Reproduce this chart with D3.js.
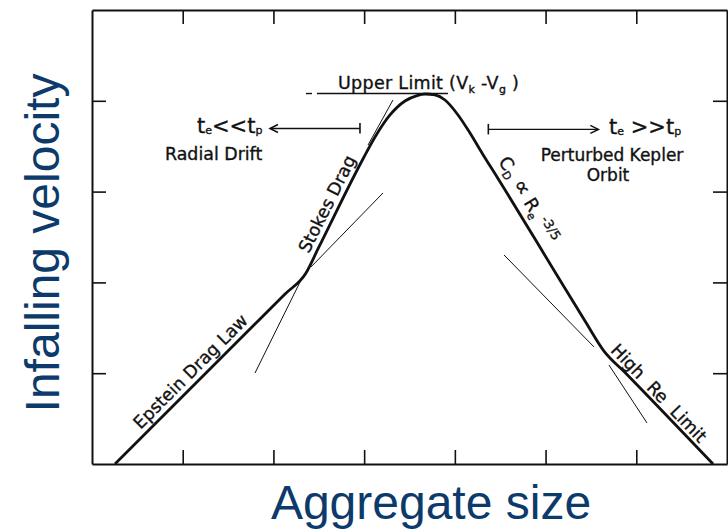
<!DOCTYPE html>
<html>
<head>
<meta charset="utf-8">
<script src="https://cdn.jsdelivr.net/npm/d3@7"></script>
<style>
  html, body { margin: 0; padding: 0; background: #fff; }
  svg { display: block; }
</style>
</head>
<body>
<svg id="chart" width="728" height="531"></svg>
<script>
// Axes: aggregate size and infall velocity, both in decades (log units)
const sizeDomain = [0, 7];
const velocityDomain = [0, 5];
const sizeTicks = [1, 2, 3, 4, 5, 6];
const velocityTicks = [1, 2, 3, 4];

// Infall velocity curve: Epstein -> Stokes -> upper limit -> C_D ~ Re^-3/5 -> high Re
const curveSize = [0.254, 2.128, 2.359, 2.491, 2.987, 3.120, 3.285, 3.450, 3.583, 3.671,
                   3.781, 3.891, 4.035, 4.167, 4.299, 4.465, 5.104, 5.435, 5.644, 5.876, 6.846];
const curveVelocity = [0.000, 1.872, 2.104, 2.368, 3.359, 3.601, 3.844, 3.998, 4.058, 4.075,
                       4.064, 4.009, 3.844, 3.645, 3.425, 3.161, 2.115, 1.575, 1.244, 1.008, 0.000];

// Thin asymptote extensions of each drag regime
const guideSize0 = [1.797, 2.414, 3.043, 4.542, 5.699];
const guideVel0  = [1.002, 2.170, 3.513, 2.302, 1.090];
const guideSize1 = [2.304, 3.208, 3.318, 5.534, 6.118];
const guideVel1  = [2.026, 2.985, 4.009, 1.289, 0.452];

// Upper limit (V_k - V_g)
const upperLimitVelocity = 4.080;
const upperLimitDash = [2.359, 2.425];
const upperLimitSpan = [2.480, 3.924];

// Radial drift / perturbed Kepler orbit brackets
const driftBar = 2.954, driftTip = 1.962, driftVel = 3.695;
const keplerBar = 4.369, keplerTip = 5.582, keplerVel = 3.685;

const svg = d3.select("#chart");
const plotLeft = 92, plotRight = 727, plotTop = 10, plotBottom = 464;

const x = d3.scaleLinear().domain(sizeDomain).range([plotLeft, plotRight]);
const y = d3.scaleLinear().domain(velocityDomain).range([plotBottom, plotTop]);

const ink = "#111";
const navy = "#0b3a6b";
const letterFont = "'DejaVu Sans', 'Noto Sans', sans-serif";

// Frame with inward ticks on all four sides
function frameAxis(axis, tr) {
  const g = svg.append("g").attr("transform", tr).call(axis);
  g.select(".domain").attr("stroke", ink).attr("stroke-width", 2);
  g.selectAll(".tick line").attr("stroke", ink).attr("stroke-width", 1.6);
  g.selectAll(".tick text").remove();
  return g;
}
frameAxis(d3.axisBottom(x).tickValues(sizeTicks).tickSize(-14).tickSizeOuter(0), `translate(0,${plotBottom})`);
frameAxis(d3.axisTop(x).tickValues(sizeTicks).tickSize(-14).tickSizeOuter(0), `translate(0,${plotTop})`);
frameAxis(d3.axisLeft(y).tickValues(velocityTicks).tickSize(-14).tickSizeOuter(0), `translate(${plotLeft},0)`);
frameAxis(d3.axisRight(y).tickValues(velocityTicks).tickSize(-14).tickSizeOuter(0), `translate(${plotRight},0)`);

// Asymptote guide lines
svg.append("g").selectAll("line")
  .data(d3.range(guideSize0.length))
  .join("line")
  .attr("x1", i => x(guideSize0[i])).attr("y1", i => y(guideVel0[i]))
  .attr("x2", i => x(guideSize1[i])).attr("y2", i => y(guideVel1[i]))
  .attr("stroke", ink).attr("stroke-width", 1);

// Upper limit line
svg.append("line")
  .attr("x1", x(upperLimitDash[0])).attr("x2", x(upperLimitDash[1]))
  .attr("y1", y(upperLimitVelocity)).attr("y2", y(upperLimitVelocity))
  .attr("stroke", ink).attr("stroke-width", 1.4);
svg.append("line")
  .attr("x1", x(upperLimitSpan[0])).attr("x2", x(upperLimitSpan[1]))
  .attr("y1", y(upperLimitVelocity)).attr("y2", y(upperLimitVelocity))
  .attr("stroke", ink).attr("stroke-width", 1.4);

// Main velocity curve
const curvePts = curveSize.map((s, i) => [s, curveVelocity[i]]);
svg.append("path")
  .datum(curvePts)
  .attr("d", d3.line().x(d => x(d[0])).y(d => y(d[1])).curve(d3.curveMonotoneX))
  .attr("fill", "none").attr("stroke", ink).attr("stroke-width", 2.8)
  .attr("stroke-linejoin", "round");

// Bracket arrows
function bracket(bar, tip, vel) {
  const yb = y(vel), xb = x(bar), xt = x(tip);
  const dir = Math.sign(xt - xb);
  svg.append("line").attr("x1", xb).attr("x2", xt).attr("y1", yb).attr("y2", yb)
    .attr("stroke", ink).attr("stroke-width", 1.4);
  svg.append("line").attr("x1", xb).attr("x2", xb).attr("y1", yb - 5.5).attr("y2", yb + 5)
    .attr("stroke", ink).attr("stroke-width", 1.6);
  svg.append("path")
    .attr("d", `M${xt - dir * 8},${yb - 4}L${xt},${yb}L${xt - dir * 8},${yb + 4}`)
    .attr("fill", "none").attr("stroke", ink).attr("stroke-width", 1.5);
}
bracket(driftBar, driftTip, driftVel);
bracket(keplerBar, keplerTip, keplerVel);

// Text helpers (lettering drawn slightly heavy, like pen lettering)
function label(tx, ty, anchor, size) {
  return svg.append("text")
    .attr("x", tx).attr("y", ty)
    .attr("text-anchor", anchor)
    .attr("font-family", letterFont)
    .attr("font-size", size)
    .attr("fill", ink)
    .attr("stroke", ink).attr("stroke-width", 0.35);
}
function sub(t, s, size, dy) {
  t.append("tspan").attr("font-size", size).attr("dy", dy).text(s);
}

// Upper Limit (V_k - V_g)
{
  const t = label(338, 89, "start", 17.5).attr("letter-spacing", 0.3);
  t.append("tspan").text("Upper Limit (V");
  sub(t, "k", 11, 4);
  t.append("tspan").attr("dy", -4).text(" -V");
  sub(t, "g", 11, 4);
  t.append("tspan").attr("dy", -4).text(" )");
}

// t_e << t_p   Radial Drift
{
  const t = label(197, 133, "start", 21);
  t.append("tspan").text("t");
  sub(t, "e", 11, 1);
  t.append("tspan").attr("dy", -1).text("<<t");
  sub(t, "p", 11, 1);
  label(165, 160, "start", 17.4).text("Radial Drift");
}

// t_e >> t_p   Perturbed Kepler Orbit
{
  const t = label(609, 134, "start", 21);
  t.append("tspan").text("t");
  sub(t, "e", 11, 1);
  t.append("tspan").attr("dy", -1).text(" >>t");
  sub(t, "p", 11, 1);
  label(612, 161, "middle", 17).text("Perturbed Kepler");
  label(608, 181, "middle", 17).text("Orbit");
}

// Regime labels set along the curve
function alongLabel(i0, i1, cx, cy, lift, size) {
  const dx = x(curveSize[i1]) - x(curveSize[i0]);
  const dy = y(curveVelocity[i1]) - y(curveVelocity[i0]);
  const ang = Math.atan2(dy, dx) * 180 / Math.PI;
  return svg.append("text")
    .attr("transform", `translate(${x(cx)},${y(cy)}) rotate(${ang})`)
    .attr("y", -lift)
    .attr("text-anchor", "middle")
    .attr("font-family", letterFont)
    .attr("font-size", size)
    .attr("fill", ink)
    .attr("stroke", ink).attr("stroke-width", 0.35);
}
alongLabel(0, 2, 1.180, 0.925, 6, 17.5).text("Epstein Drag Law");
alongLabel(2, 4, 2.720, 2.800, 7, 17.5).text("Stokes Drag");
{
  const t = alongLabel(15, 16, 4.671, 2.825, 9, 18);
  t.append("tspan").text("C");
  sub(t, "D", 11, 4);
  t.append("tspan").attr("dy", -4).text(" ");
  t.append("tspan").attr("font-size", 22).text("\u221D");
  t.append("tspan").text(" R");
  sub(t, "e", 11, 4);
  t.append("tspan").attr("font-size", 13).attr("dy", -10).text(" -3/5");
}
alongLabel(18, 20, 6.169, 0.704, 4, 17.5).attr("word-spacing", 6).text("High Re Limit");

// Axis titles
svg.append("text")
  .attr("transform", "translate(59,243) rotate(-90)")
  .attr("text-anchor", "middle")
  .attr("font-family", "'Liberation Sans', Arial, sans-serif")
  .attr("font-size", 48)
  .attr("fill", navy)
  .text("Infalling velocity");

svg.append("text")
  .attr("x", 431).attr("y", 519)
  .attr("text-anchor", "middle")
  .attr("font-family", "'Liberation Sans', Arial, sans-serif")
  .attr("font-size", 48)
  .attr("fill", navy)
  .text("Aggregate size");
</script>
</body>
</html>
